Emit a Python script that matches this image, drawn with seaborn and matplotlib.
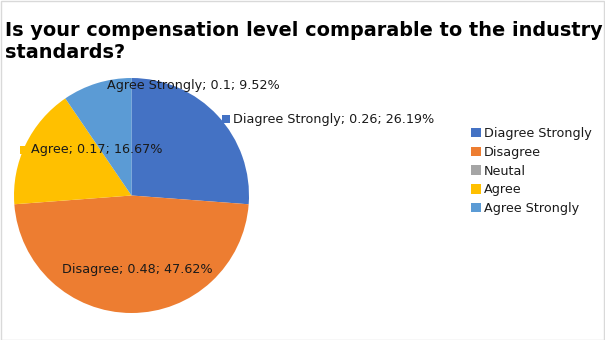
import matplotlib
matplotlib.use("Agg")
import matplotlib.pyplot as plt
import seaborn as sns
from matplotlib.patches import Patch, Rectangle

categories = ["Diagree Strongly", "Disagree", "Neutal", "Agree", "Agree Strongly"]
values = [0.26, 0.48, 0.0, 0.17, 0.10]
percents = ["26.19%", "47.62%", "0%", "16.67%", "9.52%"]
shares = [11, 20, 0, 7, 4]
colors = ["#4472C4", "#ED7D31", "#A5A5A5", "#FFC000", "#5B9BD5"]
title_lines = ["Is your compensation level comparable to the industry", "standards?"]

sns.set_theme(style="white")
plt.rcParams['font.family'] = ['DejaVu Sans']

W, H = 605, 340
fig = plt.figure(figsize=(W / 100, H / 100), dpi=100)
fig.patch.set_facecolor("white")

cx, cy, r = 131.5, 195.5, 117.5
ax = fig.add_axes([(cx - r) / W, (H - cy - r) / H, 2 * r / W, 2 * r / H])
ax.pie(shares, colors=colors, startangle=90, counterclock=False, radius=1,
       wedgeprops=dict(linewidth=0))
ax.set_xlim(-1, 1)
ax.set_ylim(-1, 1)
ax.set_aspect("equal")
ax.axis("off")

# border
fig.patches.append(Rectangle((0.5 / W, 0.5 / H), 1 - 1.5 / W, 1 - 1.5 / H,
                             transform=fig.transFigure, fill=False,
                             edgecolor="#D9D9D9", linewidth=1))

for line, yb in zip(title_lines, [36, 58]):
    fig.text(5 / W, 1 - yb / H, line, fontsize=13.85, fontweight="bold",
             ha="left", va="baseline", color="black")

fs = 9.2
def lab(i, x, y, marker=False):
    txt = f"{categories[i]}; {values[i]:g}; {percents[i]}"
    if marker:
        fig.patches.append(Rectangle(((x - 11) / W, 1 - (y + 4) / H), 8 / W, 8 / H,
                                     transform=fig.transFigure, facecolor=colors[i],
                                     edgecolor="none"))
    fig.text(x / W, 1 - y / H, txt, fontsize=fs, ha="left", va="center", color="#1a1a1a")

lab(4, 107, 85)
lab(0, 233, 119, marker=True)
lab(3, 31, 150, marker=True)
lab(1, 62, 269)

handles = [Patch(facecolor=c, edgecolor="none") for c in colors]
fig.legend(handles, categories, loc="upper left",
           bbox_to_anchor=(466 / W, 1 - 122 / H), frameon=False, fontsize=fs,
           handlelength=0.75, handleheight=0.75, handletextpad=0.25,
           labelspacing=0.45, borderaxespad=0, labelcolor="#1a1a1a")

fig.savefig("out.png", dpi=100, facecolor="white")
